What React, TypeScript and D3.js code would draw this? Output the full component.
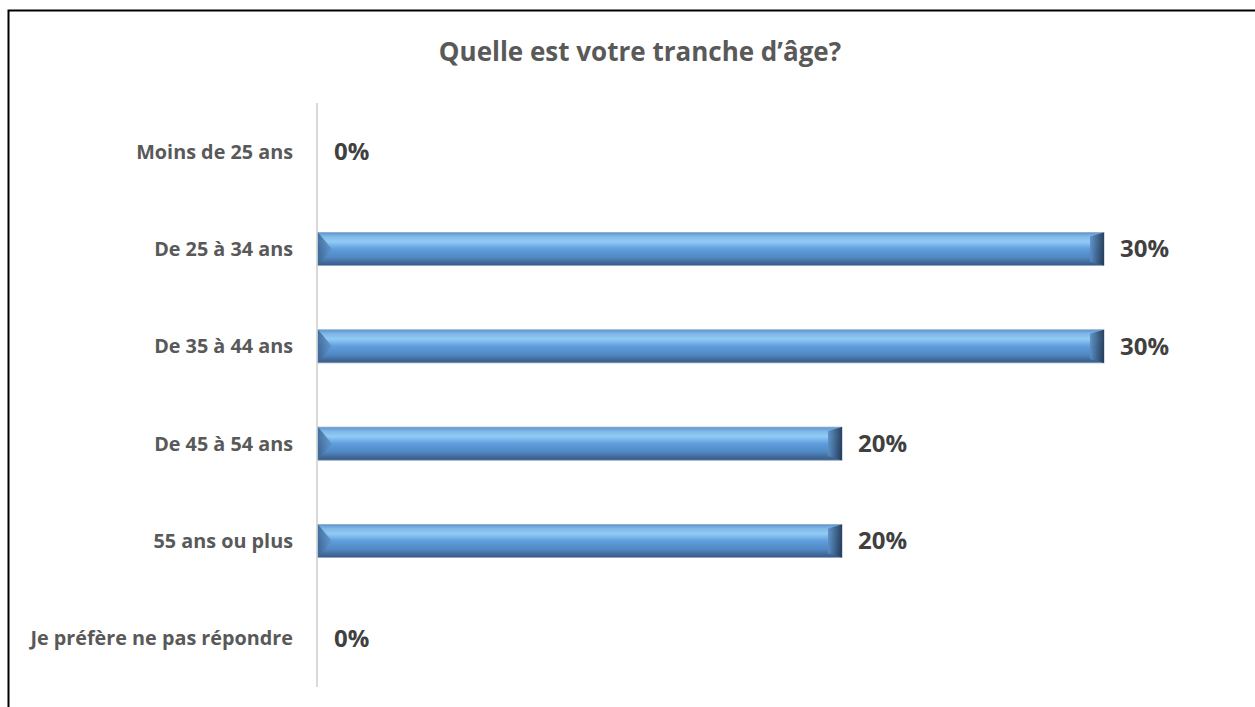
import React from "react";
import * as d3 from "d3";

const categories = [
  "Moins de 25 ans",
  "De 25 à 34 ans",
  "De 35 à 44 ans",
  "De 45 à 54 ans",
  "55 ans ou plus",
  "Je préfère ne pas répondre",
];
const values = [0, 0.3, 0.3, 0.2, 0.2, 0];
const title = "Quelle est votre tranche d’âge?";

const W = 1255;
const H = 707;
const FONT = "'Open Sans', 'Liberation Sans', sans-serif";

export default function App() {
  const x = d3.scaleLinear().domain([0, 0.3]).range([318, 1104]);
  const y = d3.scaleBand<string>().domain(categories).range([103, 687]).paddingInner(0.66).paddingOuter(0.33);
  const fmt = d3.format(".0%");
  const bh = y.bandwidth();
  const bev = 14;

  return (
    <svg width={W} height={H} style={{ position: "absolute", left: 0, top: 0, background: "#fff" }}>
      <defs>
        <linearGradient id="barg" x1="0" y1="0" x2="0" y2="1">
          <stop offset="0" stopColor="#5f93cc" />
          <stop offset="0.12" stopColor="#7fb7e8" />
          <stop offset="0.28" stopColor="#92cbf5" />
          <stop offset="0.5" stopColor="#5f9ddc" />
          <stop offset="0.75" stopColor="#5089c4" />
          <stop offset="0.9" stopColor="#44699a" />
          <stop offset="1" stopColor="#3a5a82" />
        </linearGradient>
        <linearGradient id="endg" x1="0" y1="0" x2="1" y2="0">
          <stop offset="0" stopColor="#5b8fc4" />
          <stop offset="1" stopColor="#1f3550" />
        </linearGradient>
        <linearGradient id="startg" x1="0" y1="0" x2="1" y2="0">
          <stop offset="0" stopColor="#3b638e" />
          <stop offset="1" stopColor="#5f97d0" />
        </linearGradient>
      </defs>
      <rect x={8.5} y={10.5} width={1400} height={900} fill="none" stroke="#000" strokeWidth={2} />
      <text x={640} y={61} textAnchor="middle" fontFamily={FONT} fontWeight="bold" fontSize={26} fill="#595959">
        {title}
      </text>
      <line x1={317} x2={317} y1={103} y2={687} stroke="#d9d9d9" strokeWidth={2} />
      {categories.map((c, i) => {
        const v = values[i];
        const y0 = y(c)!;
        const cy = y0 + bh / 2;
        const x0 = x(0);
        const x1 = x(v);
        const w = x1 - x0;
        return (
          <g key={c}>
            <text x={293} y={cy} dy="0.35em" textAnchor="end" fontFamily={FONT} fontWeight="bold" fontSize={19.8} fill="#595959">
              {c}
            </text>
            {w > 0 && (
              <g>
                <rect x={x0} y={y0} width={w} height={bh} fill="url(#barg)" stroke="#8aa9c8" strokeWidth={0.8} />
                <polygon points={`${x0},${y0} ${x0 + bev},${cy} ${x0},${y0 + bh}`} fill="url(#startg)" opacity={0.85} />
                <polygon
                  points={`${x1},${y0} ${x1},${y0 + bh} ${x1 - bev},${y0 + bh - 4} ${x1 - bev},${y0 + 4}`}
                  fill="url(#endg)"
                  opacity={0.9}
                />
              </g>
            )}
            <text x={x1 + 16} y={cy} dy="0.35em" fontFamily={FONT} fontWeight="bold" fontSize={24} fill="#404040">
              {fmt(v)}
            </text>
          </g>
        );
      })}
    </svg>
  );
}
